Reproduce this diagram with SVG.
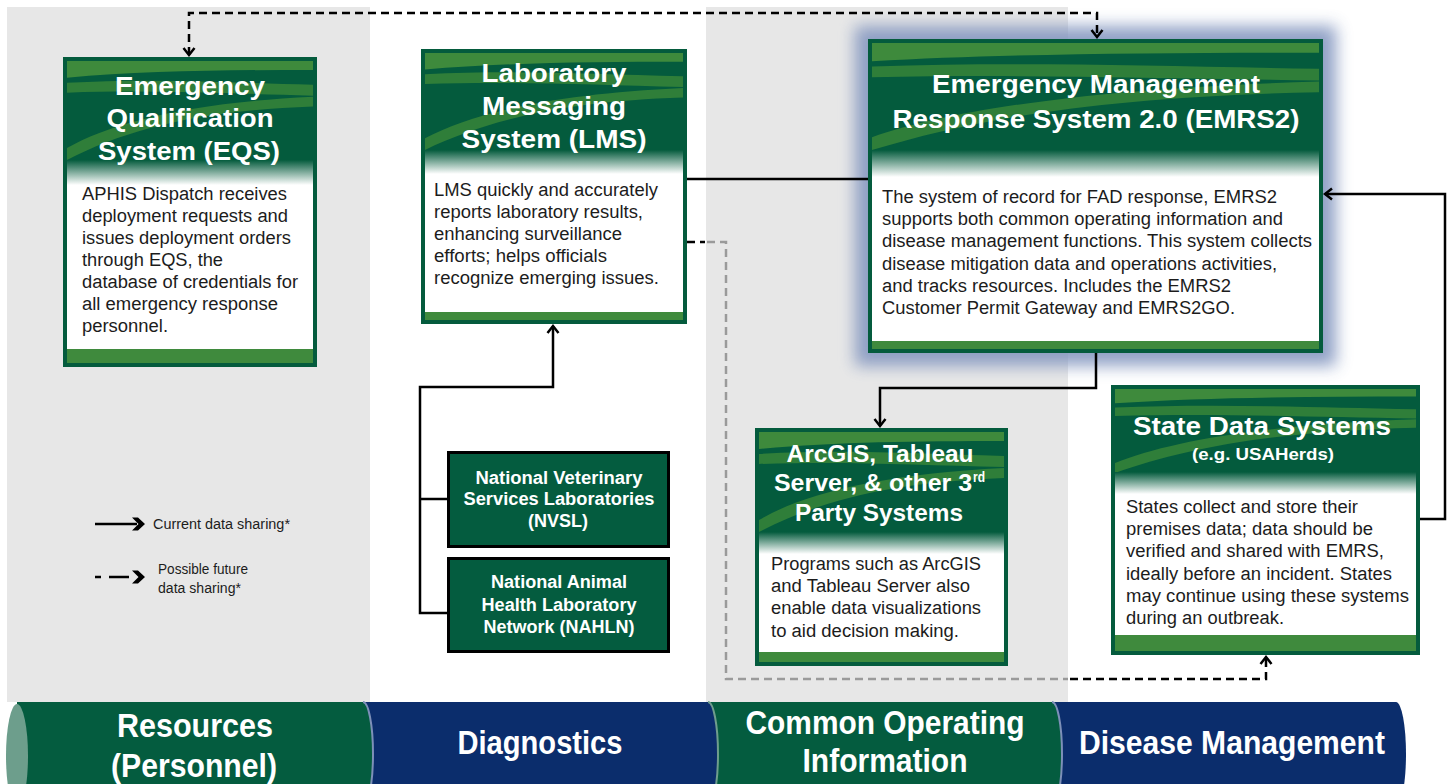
<svg xmlns="http://www.w3.org/2000/svg" width="1448" height="784" viewBox="0 0 1448 784">
<style>
.frame{fill:#045b3d}
.body{fill:#fff}
.band{fill:#3f8a3d}
.ttl{fill:#fff;font-family:"Liberation Sans",Arial,sans-serif;font-weight:bold;text-anchor:middle}
.nar{font-family:"Liberation Sans Narrow","Liberation Sans",Arial,sans-serif}
.txt{fill:#1c1c1c;font-family:"Liberation Sans",Arial,sans-serif;font-size:18px}
.lab{fill:#045c3f;stroke:#000;stroke-width:3}
.lnk{fill:none;stroke:#000;stroke-width:2.5}
.dash{stroke-dasharray:8 5}
.grey{stroke:#9a9a9a}
.ban{fill:#fff;font-family:"Liberation Sans Narrow","Liberation Sans",Arial,sans-serif;font-weight:bold;font-size:34px;text-anchor:middle}
.leg{fill:#1c1c1c;font-family:"Liberation Sans",Arial,sans-serif;font-size:14px}
.green{fill:#045c3f}
.navy{fill:#0b2d6c}
</style>
<defs>
  <!-- decorative light-green sweeps used in every card header -->
  <symbol id="swoosh" viewBox="0 0 100 100" preserveAspectRatio="none">
    <path d="M0,0 H100 V9 C65,9 30,10 0,17 Z" fill="#3e8a3c"/>
    <path d="M0,22 C35,17 65,22 100,24 V35 C65,33 35,29 0,32 Z" fill="#2f7e39"/>
    <path d="M0,88 C18,62 50,42 100,36 V46 C55,50 25,68 0,100 Z" fill="#2f7e39"/>
  </symbol>
  <linearGradient id="fade" x1="0" y1="0" x2="0" y2="1">
    <stop offset="0" stop-color="#045b3d"/>
    <stop offset="1" stop-color="#ffffff"/>
  </linearGradient>
  <filter id="blur" x="-20%" y="-20%" width="140%" height="140%">
    <feGaussianBlur stdDeviation="8"/>
  </filter>
  <marker id="chev" viewBox="0 0 14 14" refX="12" refY="7" markerWidth="14" markerHeight="14" markerUnits="userSpaceOnUse" orient="auto-start-reverse">
    <path d="M5,1.5 L12,7 L5,12.5" fill="none" stroke="#000" stroke-width="2.5"/>
  </marker>
</defs>

<!-- page and column shading -->
<rect width="1448" height="784" fill="#fff"/>
<rect x="7" y="7" width="363" height="695" fill="#e7e7e7"/>
<rect x="706" y="7" width="362" height="695" fill="#e7e7e7"/>

<!-- EQS -->
<g id="eqs">
  <rect class="frame" x="63" y="57" width="254" height="310"/>
  <use href="#swoosh" x="67" y="61" width="246" height="99"/>
  <rect fill="url(#fade)" x="67" y="160" width="246" height="25"/>
  <rect class="body" x="67" y="185" width="246" height="164"/>
  <rect class="band" x="67" y="349" width="246" height="14"/>
  <text class="ttl" font-size="26" x="190" y="95" textLength="150" lengthAdjust="spacingAndGlyphs">Emergency</text>
  <text class="ttl" font-size="26" x="190" y="127" textLength="167" lengthAdjust="spacingAndGlyphs">Qualification</text>
  <text class="ttl" font-size="26" x="189" y="160" textLength="182" lengthAdjust="spacingAndGlyphs">System (EQS)</text>
  <text class="txt" x="82" y="200" textLength="205" lengthAdjust="spacingAndGlyphs">APHIS Dispatch receives</text>
  <text class="txt" x="82" y="222" textLength="206" lengthAdjust="spacingAndGlyphs">deployment requests and</text>
  <text class="txt" x="82" y="244" textLength="209" lengthAdjust="spacingAndGlyphs">issues deployment orders</text>
  <text class="txt" x="82" y="266" textLength="141" lengthAdjust="spacingAndGlyphs">through EQS, the</text>
  <text class="txt" x="82" y="288" textLength="216" lengthAdjust="spacingAndGlyphs">database of credentials for</text>
  <text class="txt" x="82" y="310" textLength="196" lengthAdjust="spacingAndGlyphs">all emergency response</text>
  <text class="txt" x="82" y="332" textLength="86" lengthAdjust="spacingAndGlyphs">personnel.</text>
</g>

<!-- LMS -->
<g id="lms">
  <rect class="frame" x="421" y="49" width="266" height="275"/>
  <use href="#swoosh" x="425" y="53" width="258" height="97"/>
  <rect fill="url(#fade)" x="425" y="150" width="258" height="24"/>
  <rect class="body" x="425" y="174" width="258" height="138"/>
  <rect class="band" x="425" y="312" width="258" height="8"/>
  <text class="ttl" font-size="26" x="554" y="82" textLength="145" lengthAdjust="spacingAndGlyphs">Laboratory</text>
  <text class="ttl" font-size="26" x="554" y="115" textLength="144" lengthAdjust="spacingAndGlyphs">Messaging</text>
  <text class="ttl" font-size="26" x="554" y="148" textLength="185" lengthAdjust="spacingAndGlyphs">System (LMS)</text>
  <text class="txt" x="434" y="196" textLength="224" lengthAdjust="spacingAndGlyphs">LMS quickly and accurately</text>
  <text class="txt" x="434" y="218" textLength="209" lengthAdjust="spacingAndGlyphs">reports laboratory results,</text>
  <text class="txt" x="434" y="240" textLength="188" lengthAdjust="spacingAndGlyphs">enhancing surveillance</text>
  <text class="txt" x="434" y="262" textLength="173" lengthAdjust="spacingAndGlyphs">efforts; helps officials</text>
  <text class="txt" x="434" y="284" textLength="225" lengthAdjust="spacingAndGlyphs">recognize emerging issues.</text>
</g>

<!-- EMRS2 -->
<g id="emrs2">
  <rect x="855" y="26" width="481" height="340" fill="#8497c0" opacity="0.9" filter="url(#blur)"/>
  <rect class="frame" x="868" y="39" width="455" height="314"/>
  <use href="#swoosh" x="872" y="43" width="447" height="107"/>
  <rect fill="url(#fade)" x="872" y="150" width="447" height="27"/>
  <rect class="body" x="872" y="177" width="447" height="164"/>
  <rect class="band" x="872" y="341" width="447" height="8"/>
  <text class="ttl" font-size="26" x="1096" y="93" textLength="328" lengthAdjust="spacingAndGlyphs">Emergency Management</text>
  <text class="ttl" font-size="26" x="1096" y="128" textLength="407" lengthAdjust="spacingAndGlyphs">Response System 2.0 (EMRS2)</text>
  <text class="txt" x="882" y="203" textLength="395" lengthAdjust="spacingAndGlyphs">The system of record for FAD response, EMRS2</text>
  <text class="txt" x="882" y="225" textLength="401" lengthAdjust="spacingAndGlyphs">supports both common operating information and</text>
  <text class="txt" x="882" y="247" textLength="430" lengthAdjust="spacingAndGlyphs">disease management functions. This system collects</text>
  <text class="txt" x="882" y="270" textLength="395" lengthAdjust="spacingAndGlyphs">disease mitigation data and operations activities,</text>
  <text class="txt" x="882" y="292" textLength="349" lengthAdjust="spacingAndGlyphs">and tracks resources. Includes the EMRS2</text>
  <text class="txt" x="882" y="314" textLength="353" lengthAdjust="spacingAndGlyphs">Customer Permit Gateway and EMRS2GO.</text>
</g>

<!-- NVSL -->
<g id="nvsl">
  <rect class="lab" x="448.5" y="452.5" width="220" height="94"/>
  <text class="ttl" font-size="17.5" x="559" y="484" textLength="167" lengthAdjust="spacingAndGlyphs">National Veterinary</text>
  <text class="ttl" font-size="17.5" x="559" y="505" textLength="191" lengthAdjust="spacingAndGlyphs">Services Laboratories</text>
  <text class="ttl" font-size="17.5" x="558" y="527" textLength="60" lengthAdjust="spacingAndGlyphs">(NVSL)</text>
</g>

<!-- NAHLN -->
<g id="nahln">
  <rect class="lab" x="448.5" y="558.5" width="220" height="93"/>
  <text class="ttl" font-size="17.5" x="559" y="588" textLength="136" lengthAdjust="spacingAndGlyphs">National Animal</text>
  <text class="ttl" font-size="17.5" x="559" y="611" textLength="155" lengthAdjust="spacingAndGlyphs">Health Laboratory</text>
  <text class="ttl" font-size="17.5" x="559" y="633" textLength="151" lengthAdjust="spacingAndGlyphs">Network (NAHLN)</text>
</g>

<!-- ArcGIS / Tableau -->
<g id="arcgis">
  <rect class="frame" x="755" y="428" width="253" height="238"/>
  <use href="#swoosh" x="759" y="432" width="245" height="100"/>
  <rect fill="url(#fade)" x="759" y="532" width="245" height="22"/>
  <rect class="body" x="759" y="554" width="245" height="98"/>
  <rect class="band" x="759" y="652" width="245" height="10"/>
  <text class="ttl nar" font-size="24" x="880" y="462" textLength="187" lengthAdjust="spacingAndGlyphs">ArcGIS, Tableau</text>
  <text class="ttl nar" font-size="24" x="774" y="491" style="text-anchor:start" textLength="198" lengthAdjust="spacingAndGlyphs">Server, &amp; other 3</text>
  <text class="ttl nar" font-size="14" x="973" y="482" style="text-anchor:start" textLength="12" lengthAdjust="spacingAndGlyphs">rd</text>
  <text class="ttl nar" font-size="24" x="879" y="521" textLength="168" lengthAdjust="spacingAndGlyphs">Party Systems</text>
  <text class="txt nar" font-size="19" x="771" y="570" textLength="210" lengthAdjust="spacingAndGlyphs">Programs such as ArcGIS</text>
  <text class="txt nar" font-size="19" x="771" y="592" textLength="199" lengthAdjust="spacingAndGlyphs">and Tableau Server also</text>
  <text class="txt nar" font-size="19" x="771" y="614" textLength="210" lengthAdjust="spacingAndGlyphs">enable data visualizations</text>
  <text class="txt nar" font-size="19" x="771" y="637" textLength="188" lengthAdjust="spacingAndGlyphs">to aid decision making.</text>
</g>

<!-- State data systems -->
<g id="state">
  <rect class="frame" x="1111" y="385" width="309" height="270"/>
  <use href="#swoosh" x="1115" y="389" width="301" height="84"/>
  <rect fill="url(#fade)" x="1115" y="472" width="301" height="22"/>
  <rect class="body" x="1115" y="494" width="301" height="141"/>
  <rect class="band" x="1115" y="635" width="301" height="16"/>
  <text class="ttl nar" font-size="26" x="1262" y="435" textLength="258" lengthAdjust="spacingAndGlyphs">State Data Systems</text>
  <text class="ttl nar" font-size="17" x="1263" y="460" textLength="142" lengthAdjust="spacingAndGlyphs">(e.g. USAHerds)</text>
  <text class="txt nar" font-size="19" x="1126" y="513" textLength="232" lengthAdjust="spacingAndGlyphs">States collect and store their</text>
  <text class="txt nar" font-size="19" x="1126" y="535" textLength="247" lengthAdjust="spacingAndGlyphs">premises data; data should be</text>
  <text class="txt nar" font-size="19" x="1126" y="557" textLength="258" lengthAdjust="spacingAndGlyphs">verified and shared with EMRS,</text>
  <text class="txt nar" font-size="19" x="1126" y="580" textLength="266" lengthAdjust="spacingAndGlyphs">ideally before an incident. States</text>
  <text class="txt nar" font-size="19" x="1126" y="602" textLength="283" lengthAdjust="spacingAndGlyphs">may continue using these systems</text>
  <text class="txt nar" font-size="19" x="1126" y="624" textLength="158" lengthAdjust="spacingAndGlyphs">during an outbreak.</text>
</g>

<!-- connectors -->
<g id="connectors">
  <path class="lnk dash" d="M189,55 V13 H1097 V37" marker-start="url(#chev)" marker-end="url(#chev)"/>
  <path class="lnk" d="M687,179 H868"/>
  <path class="lnk" d="M447,499 H420"/>
  <path class="lnk" d="M447,613 H420 V387 H553 V326" marker-end="url(#chev)"/>
  <path class="lnk" d="M1096,353 V388 H880 V426" marker-end="url(#chev)"/>
  <path class="lnk" d="M1420,519 H1445 V194 H1325" marker-end="url(#chev)"/>
  <path class="lnk dash" d="M687,242 H705"/>
  <path class="lnk dash grey" d="M707,242 H726 V679 H1068"/>
  <path class="lnk dash" d="M1070,679 H1266 V657" marker-end="url(#chev)"/>
</g>

<!-- legend -->
<g id="legend">
  <path class="lnk" d="M95,524 H137"/>
  <polygon points="132,517.5 138,517.5 145,524 138,530.5 132,530.5 138.5,524" fill="#000"/>
  <text class="leg" x="153" y="529" textLength="137" lengthAdjust="spacingAndGlyphs">Current data sharing*</text>
  <path class="lnk" d="M95,577 H101 M109,577 H129"/>
  <polygon points="132,570.5 138,570.5 145,577 138,583.5 132,583.5 138.5,577" fill="#000"/>
  <text class="leg" x="158" y="574" textLength="90" lengthAdjust="spacingAndGlyphs">Possible future</text>
  <text class="leg" x="158" y="593" textLength="83" lengthAdjust="spacingAndGlyphs">data sharing*</text>
</g>

<!-- category bar along the bottom -->
<g id="band-disease-management">
  <path class="navy" d="M1050,702 H1396 A10,52 0 0 1 1396,806 H1050 Z"/>
  <text class="ban" x="1232" y="754" textLength="306" lengthAdjust="spacingAndGlyphs">Disease Management</text>
</g>
<g id="band-common-operating">
  <path class="green" d="M700,702 H1052 A10,52 0 0 1 1052,806 H700 Z"/>
  <path d="M1052,702 A10,52 0 0 1 1052,806" fill="none" stroke="#7d90b8" stroke-width="2"/>
  <text class="ban" x="885" y="734" textLength="279" lengthAdjust="spacingAndGlyphs">Common Operating</text>
  <text class="ban" x="885" y="772" textLength="165" lengthAdjust="spacingAndGlyphs">Information</text>
</g>
<g id="band-diagnostics">
  <path class="navy" d="M360,702 H708 A10,52 0 0 1 708,806 H360 Z"/>
  <path d="M708,702 A10,52 0 0 1 708,806" fill="none" stroke="#6f9d8d" stroke-width="2"/>
  <text class="ban" x="540" y="754" textLength="165" lengthAdjust="spacingAndGlyphs">Diagnostics</text>
</g>
<g id="band-resources">
  <path class="green" d="M17,702 H363 A10,52 0 0 1 363,806 H17 Z"/>
  <path d="M363,702 A10,52 0 0 1 363,806" fill="none" stroke="#7d90b8" stroke-width="2"/>
  <ellipse cx="17" cy="756" rx="11" ry="52" fill="#6d9e8c"/>
  <text class="ban" x="195" y="737" textLength="156" lengthAdjust="spacingAndGlyphs">Resources</text>
  <text class="ban" x="194" y="777" textLength="166" lengthAdjust="spacingAndGlyphs">(Personnel)</text>
</g>
</svg>
